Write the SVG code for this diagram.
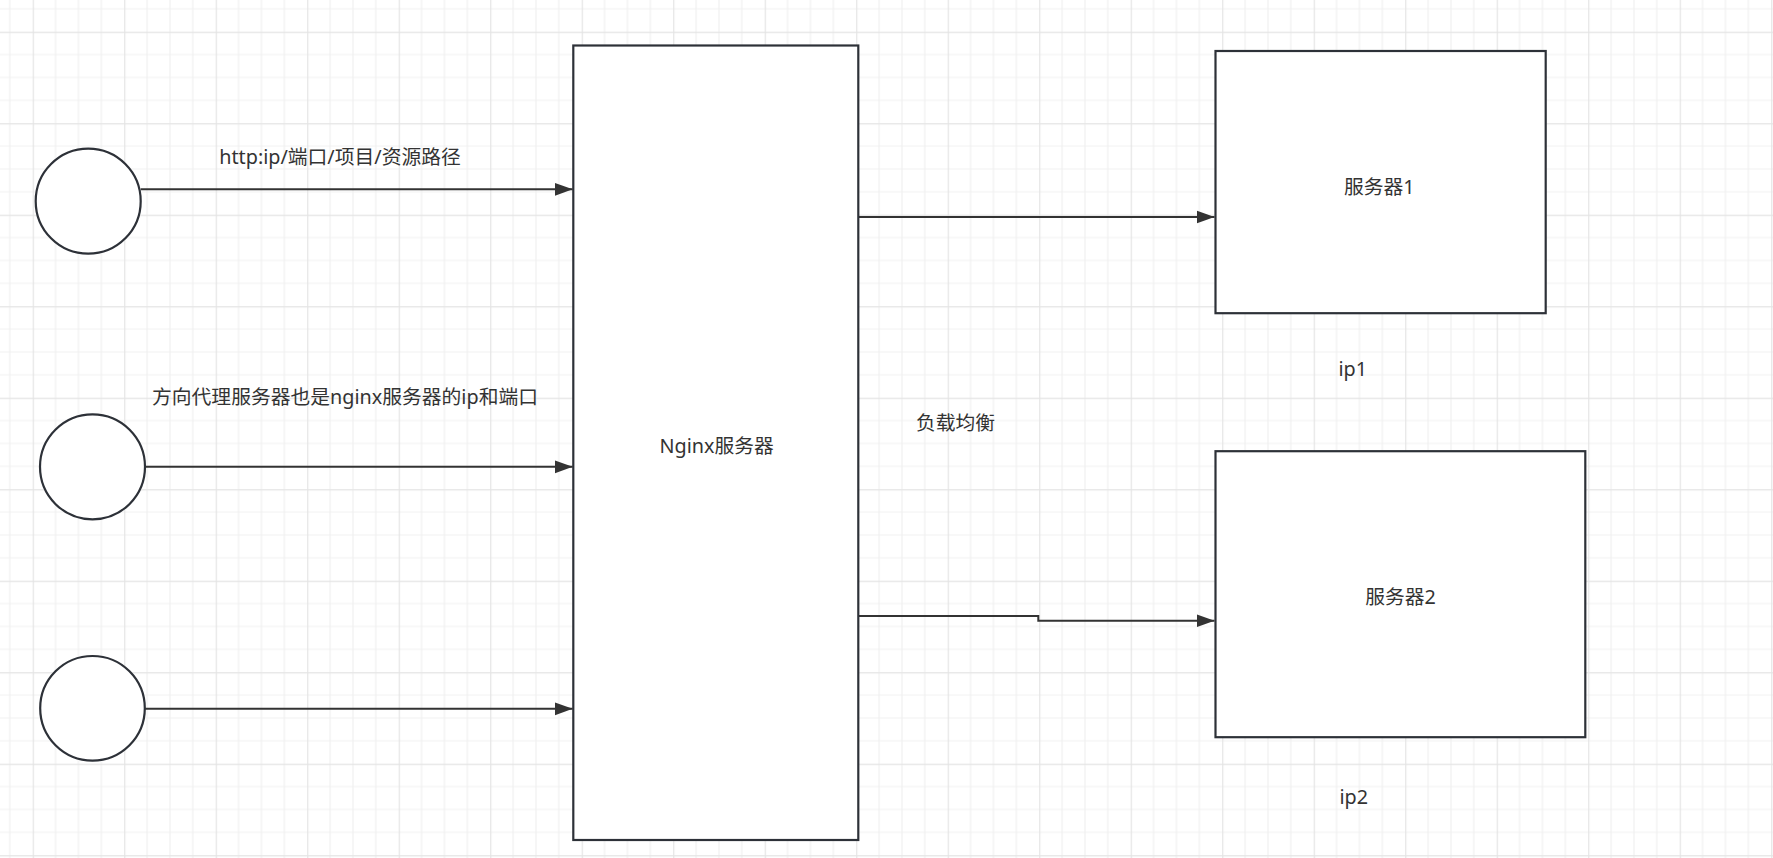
<svg xmlns="http://www.w3.org/2000/svg" width="1773" height="858" viewBox="0 0 1773 858">
  <defs>
    <pattern id="grid" patternUnits="userSpaceOnUse" x="32.7" y="31.7" width="91.5" height="91.5">
      <path d="M22.875,0V91.5M45.75,0V91.5M68.625,0V91.5M0,22.875H91.5M0,45.75H91.5M0,68.625H91.5" stroke="#f1f1f1" stroke-width="1.2" fill="none"/>
      <path d="M0.6,0V91.5M0,0.6H91.5" stroke="#e4e4e4" stroke-width="1.2" fill="none"/>
    </pattern>
    <marker id="arr" markerUnits="userSpaceOnUse" markerWidth="20" markerHeight="14" refX="18" refY="7" orient="auto">
      <path d="M0,0.5 L18,7 L0,13.5 Z" fill="#333"/>
    </marker>
  </defs>
  <style>
    .shape { fill: #fff; stroke: #2d3138; stroke-width: 2.2; }
    .edge { fill: none; stroke: #333; stroke-width: 2; marker-end: url(#arr); }
    .lbl { font-family: "Noto Sans", "Noto Sans CJK SC", sans-serif; font-size: 19.8px; fill: #333; text-anchor: middle; dominant-baseline: central; }
  </style>
  <rect width="1773" height="858" fill="#fff"/>
  <rect width="1773" height="858" fill="url(#grid)"/>

  <g id="connectors">
    <path class="edge" d="M140.7,189.3 H572.7"/>
    <path class="edge" d="M145,466.8 H572.7"/>
    <path class="edge" d="M145,708.8 H572.7"/>
    <path class="edge" d="M858.3,217 H1214.5"/>
    <path class="edge" d="M858.3,616 H1038.3 V620.7 H1214.5"/>
  </g>

  <g id="client1"><circle class="shape" cx="88.2" cy="201.2" r="52.5"/></g>
  <g id="client2"><circle class="shape" cx="92.5" cy="466.8" r="52.5"/></g>
  <g id="client3"><circle class="shape" cx="92.5" cy="708.3" r="52.3"/></g>

  <g id="nginx">
    <rect class="shape" x="573.3" y="45.5" width="285" height="794.5"/>
    <text class="lbl" x="716.7" y="445">Nginx服务器</text>
  </g>
  <g id="server1">
    <rect class="shape" x="1215.5" y="51" width="330.2" height="262.2"/>
    <text class="lbl" x="1379.3" y="186">服务器1</text>
  </g>
  <g id="server2">
    <rect class="shape" x="1215.5" y="451.2" width="369.8" height="286"/>
    <text class="lbl" x="1400.5" y="596">服务器2</text>
  </g>

  <g id="labels">
    <text class="lbl" x="340" y="156.7">http:ip/端口/项目/资源路径</text>
    <text class="lbl" x="345" y="396.7">方向代理服务器也是nginx服务器的ip和端口</text>
    <text class="lbl" x="955.5" y="422.3">负载均衡</text>
    <text class="lbl" x="1352.7" y="368.3">ip1</text>
    <text class="lbl" x="1353.8" y="796.7">ip2</text>
  </g>
</svg>
